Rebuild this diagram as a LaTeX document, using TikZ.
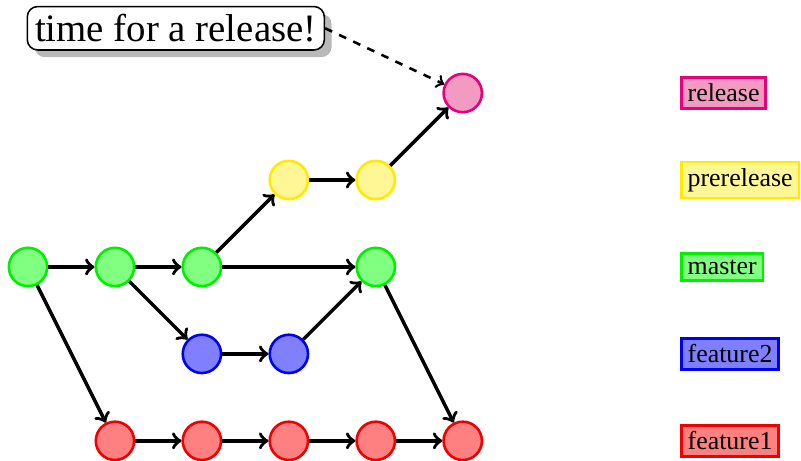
\documentclass[tikz,border=0pt]{standalone}
\usepackage{fontspec}
\setmainfont{Liberation Serif}
\usetikzlibrary{arrows}
\usetikzlibrary{shadows}

\definecolor{relline}{RGB}{230,0,126}
\definecolor{relfill}{RGB}{242,154,193}
\definecolor{preline}{RGB}{255,234,0}
\definecolor{prefill}{RGB}{255,246,150}
\definecolor{masline}{RGB}{0,240,0}
\definecolor{masfill}{RGB}{128,255,128}
\definecolor{fealine}{RGB}{0,0,240}
\definecolor{feafill}{RGB}{128,128,255}
\definecolor{febline}{RGB}{240,0,0}
\definecolor{febfill}{RGB}{255,128,128}

\tikzset{
  commit/.style={circle, draw, line width=1pt, minimum size=0.52cm, inner sep=0pt},
  branch/.style={rectangle, draw, line width=1pt, inner sep=2.4pt, anchor=west},
  relstyle/.style={draw=relline, fill=relfill},
  prestyle/.style={draw=preline, fill=prefill},
  masstyle/.style={draw=masline, fill=masfill},
  f2style/.style={draw=fealine, fill=feafill},
  f1style/.style={draw=febline, fill=febfill},
  hist/.style={line width=1.35pt, ->},
}

\begin{document}
\begin{tikzpicture}[x=1.18cm,y=1.18cm,>=to]
\useasboundingbox (-0.322,-2.23) rectangle (8.89,3.07);

% master
\node [commit,masstyle] (m1) at (0,0) {};
\node [commit,masstyle] (m2) at (1,0) {};
\node [commit,masstyle] (m3) at (2,0) {};
\node [commit,masstyle] (m4) at (4,0) {};
% prerelease and release
\node [commit,prestyle] (p1) at (3,1) {};
\node [commit,prestyle] (p2) at (4,1) {};
\node [commit,relstyle] (r1) at (5,2) {};
% feature2
\node [commit,f2style] (b1) at (2,-1) {};
\node [commit,f2style] (b2) at (3,-1) {};
% feature1
\node [commit,f1style] (a1) at (1,-2) {};
\node [commit,f1style] (a2) at (2,-2) {};
\node [commit,f1style] (a3) at (3,-2) {};
\node [commit,f1style] (a4) at (4,-2) {};
\node [commit,f1style] (a5) at (5,-2) {};

\draw [hist] (m1) -- (m2);
\draw [hist] (m2) -- (m3);
\draw [hist] (m3) -- (m4);
\draw [hist] (m1) -- (a1);
\draw [hist] (m2) -- (b1);
\draw [hist] (m3) -- (p1);
\draw [hist] (p1) -- (p2);
\draw [hist] (p2) -- (r1);
\draw [hist] (b1) -- (b2);
\draw [hist] (b2) -- (m4);
\draw [hist] (m4) -- (a5);
\draw [hist] (a1) -- (a2);
\draw [hist] (a2) -- (a3);
\draw [hist] (a3) -- (a4);
\draw [hist] (a4) -- (a5);

% legend
\node [branch,relstyle] (lrel) at (7.5,2) {release};
\node [branch,prestyle] (lpre) at (7.5,1) {prerelease};
\node [branch,masstyle] (lmas) at (7.5,0) {master};
\node [branch,f2style] (lf2) at (7.5,-1) {feature2};
\node [branch,f1style] (lf1) at (7.5,-2) {feature1};

% note
\node [draw, fill=white, line width=0.6pt, rounded corners=4pt, inner sep=3pt,
  drop shadow={shadow xshift=2.8pt, shadow yshift=-2.8pt, opacity=0.55}] (note) at (1.70,2.745)
  {\fontsize{15}{18}\selectfont time for a release!};
\draw [line width=1pt, dashed, ->] (note.east) -- (r1);

\end{tikzpicture}
\end{document}
